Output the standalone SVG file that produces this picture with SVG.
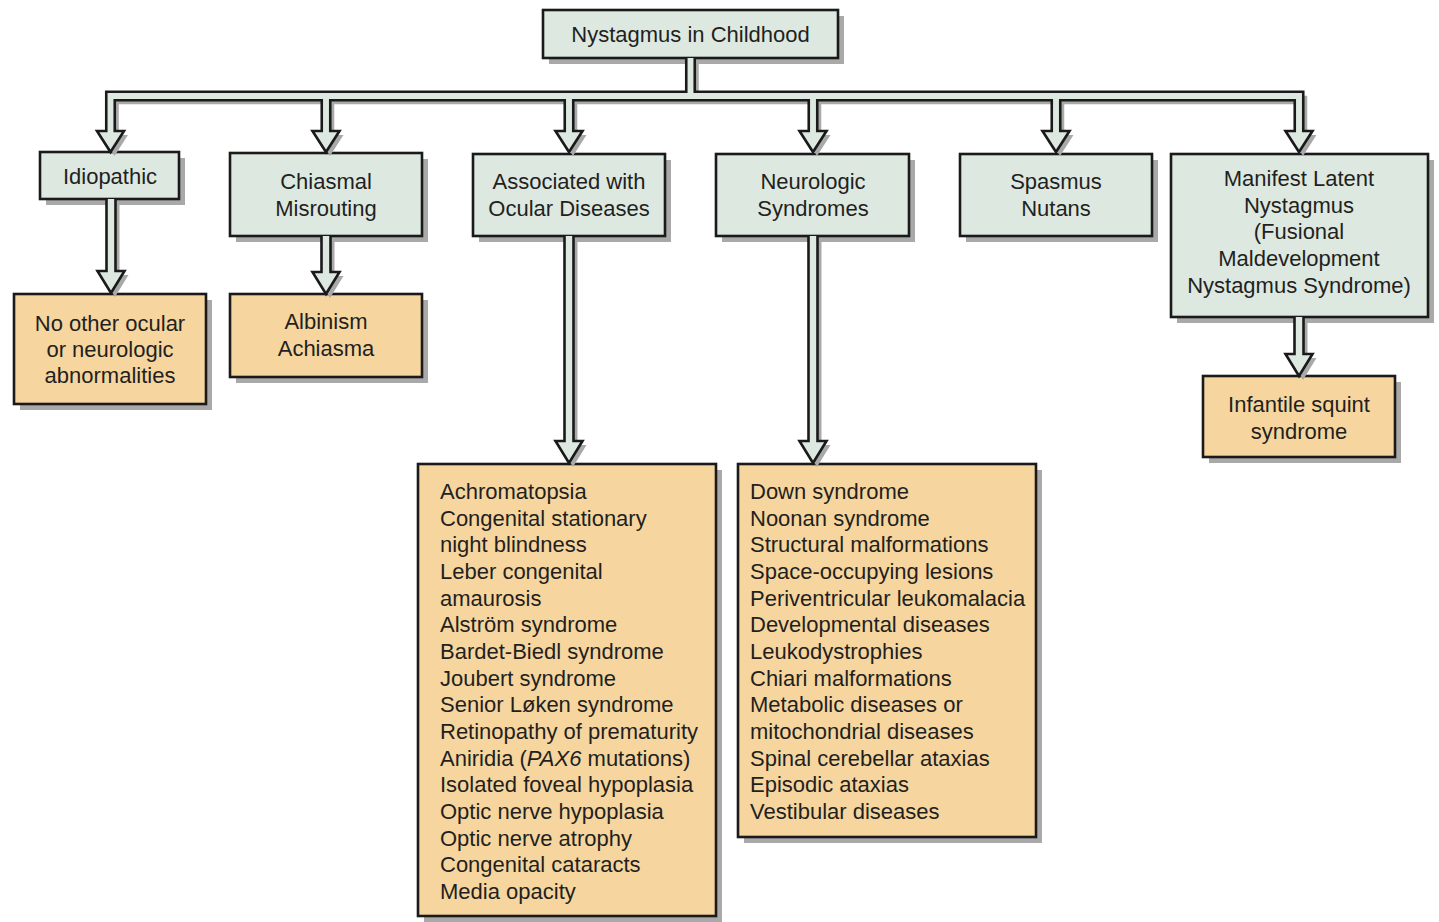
<svg xmlns="http://www.w3.org/2000/svg" width="1439" height="922" viewBox="0 0 1439 922">
<style>
.g{fill:#dde9e0;stroke:#1a1a1a;stroke-width:2.6}
.o{fill:#f6d69e;stroke:#1a1a1a;stroke-width:2.6}
.sh{fill:#a9a9a9}
.c{fill:#dde9e0;stroke:#1a1a1a;stroke-width:2.6;stroke-linejoin:miter}
.cs{fill:#a9a9a9;stroke:none}
text{font-family:"Liberation Sans",Arial,sans-serif;font-size:22px;fill:#231f20}
.m{text-anchor:middle}
</style>
<rect width="1439" height="922" fill="#ffffff"/>
<g id="n-root"><rect class="sh" x="549" y="16" width="295" height="48"/><rect class="g" x="543" y="10" width="295" height="48"/><text class="m" x="690.5" y="42">Nystagmus in Childhood</text></g>
<g id="n-idiopathic"><rect class="sh" x="46" y="158" width="139" height="47"/><rect class="g" x="40" y="152" width="139" height="47"/><text class="m" x="110" y="184">Idiopathic</text></g>
<g id="n-chiasmal"><rect class="sh" x="236" y="159" width="192" height="83"/><rect class="g" x="230" y="153" width="192" height="83"/><text class="m" x="326" y="189">Chiasmal<tspan x="326" dy="27">Misrouting</tspan></text></g>
<g id="n-ocular"><rect class="sh" x="479" y="160" width="192" height="82"/><rect class="g" x="473" y="154" width="192" height="82"/><text class="m" x="569" y="189">Associated with<tspan x="569" dy="27">Ocular Diseases</tspan></text></g>
<g id="n-neuro"><rect class="sh" x="722" y="160" width="193" height="82"/><rect class="g" x="716" y="154" width="193" height="82"/><text class="m" x="813" y="189">Neurologic<tspan x="813" dy="27">Syndromes</tspan></text></g>
<g id="n-spasmus"><rect class="sh" x="966" y="160" width="192" height="82"/><rect class="g" x="960" y="154" width="192" height="82"/><text class="m" x="1056" y="189">Spasmus<tspan x="1056" dy="27">Nutans</tspan></text></g>
<g id="n-manifest"><rect class="sh" x="1177" y="160" width="257" height="163"/><rect class="g" x="1171" y="154" width="257" height="163"/><text class="m" x="1299" y="186">Manifest Latent<tspan x="1299" dy="26.7">Nystagmus</tspan><tspan x="1299" dy="26.7">(Fusional</tspan><tspan x="1299" dy="26.7">Maldevelopment</tspan><tspan x="1299" dy="26.7">Nystagmus Syndrome)</tspan></text></g>
<g id="n-noother"><rect class="sh" x="20" y="300" width="192" height="110"/><rect class="o" x="14" y="294" width="192" height="110"/><text class="m" x="110" y="331">No other ocular<tspan x="110" dy="26">or neurologic</tspan><tspan x="110" dy="26">abnormalities</tspan></text></g>
<g id="n-albinism"><rect class="sh" x="236" y="300" width="192" height="83"/><rect class="o" x="230" y="294" width="192" height="83"/><text class="m" x="326" y="329">Albinism<tspan x="326" dy="27">Achiasma</tspan></text></g>
<g id="n-ocularlist"><rect class="sh" x="424" y="470" width="298" height="452"/><rect class="o" x="418" y="464" width="298" height="452"/>
<text x="440" y="499">Achromatopsia<tspan x="440" dy="26.67">Congenital stationary</tspan><tspan x="440" dy="26.67">night blindness</tspan><tspan x="440" dy="26.67">Leber congenital</tspan><tspan x="440" dy="26.67">amaurosis</tspan><tspan x="440" dy="26.67">Alström syndrome</tspan><tspan x="440" dy="26.67">Bardet-Biedl syndrome</tspan><tspan x="440" dy="26.67">Joubert syndrome</tspan><tspan x="440" dy="26.67">Senior Løken syndrome</tspan><tspan x="440" dy="26.67">Retinopathy of prematurity</tspan><tspan x="440" dy="26.67">Aniridia (<tspan font-style="italic">PAX6</tspan> mutations)</tspan><tspan x="440" dy="26.67">Isolated foveal hypoplasia</tspan><tspan x="440" dy="26.67">Optic nerve hypoplasia</tspan><tspan x="440" dy="26.67">Optic nerve atrophy</tspan><tspan x="440" dy="26.67">Congenital cataracts</tspan><tspan x="440" dy="26.67">Media opacity</tspan></text></g>
<g id="n-neurolist"><rect class="sh" x="744" y="470" width="298" height="373"/><rect class="o" x="738" y="464" width="298" height="373"/>
<text x="750" y="499">Down syndrome<tspan x="750" dy="26.67">Noonan syndrome</tspan><tspan x="750" dy="26.67">Structural malformations</tspan><tspan x="750" dy="26.67">Space-occupying lesions</tspan><tspan x="750" dy="26.67">Periventricular leukomalacia</tspan><tspan x="750" dy="26.67">Developmental diseases</tspan><tspan x="750" dy="26.67">Leukodystrophies</tspan><tspan x="750" dy="26.67">Chiari malformations</tspan><tspan x="750" dy="26.67">Metabolic diseases or</tspan><tspan x="750" dy="26.67">mitochondrial diseases</tspan><tspan x="750" dy="26.67">Spinal cerebellar ataxias</tspan><tspan x="750" dy="26.67">Episodic ataxias</tspan><tspan x="750" dy="26.67">Vestibular diseases</tspan></text></g>
<g id="n-infantile"><rect class="sh" x="1209" y="382" width="192" height="81"/><rect class="o" x="1203" y="376" width="192" height="81"/><text class="m" x="1299" y="412">Infantile squint<tspan x="1299" dy="27">syndrome</tspan></text></g>
<g id="connectors">
<defs>
<path id="bus" d="M 686.25 58 V 91.75 H 106.25 V 131 H 97 L 110.5 152 L 124 131 H 114.75 V 100.25 H 321.75 V 131 H 312.5 L 326 152 L 339.5 131 H 330.25 V 100.25 H 564.75 V 131 H 555.5 L 569 152 L 582.5 131 H 573.25 V 100.25 H 808.75 V 131 H 799.5 L 813 152 L 826.5 131 H 817.25 V 100.25 H 1051.75 V 131 H 1042.5 L 1056 152 L 1069.5 131 H 1060.25 V 100.25 H 1294.75 V 131 H 1285.5 L 1299 152 L 1312.5 131 H 1303.25 V 91.75 H 694.75 V 58"/>
<path id="a1" d="M 106.5 199 V 271 H 97.5 L 111 293 L 124.5 271 H 115.5 V 199"/>
<path id="a2" d="M 321.5 236 V 272 H 312.5 L 326 294 L 339.5 272 H 330.5 V 236"/>
<path id="a3" d="M 564.5 236 V 441 H 555.5 L 569 463 L 582.5 441 H 573.5 V 236"/>
<path id="a4" d="M 808.5 236 V 441 H 799.5 L 813 463 L 826.5 441 H 817.5 V 236"/>
<path id="a5" d="M 1294.5 317 V 354 H 1285.5 L 1299 376 L 1312.5 354 H 1303.5 V 317"/>
</defs>
<g transform="translate(4,4)">
<use href="#bus" class="cs"/><use href="#a1" class="cs"/><use href="#a2" class="cs"/><use href="#a3" class="cs"/><use href="#a4" class="cs"/><use href="#a5" class="cs"/>
</g>
<use href="#bus" class="c"/><use href="#a1" class="c"/><use href="#a2" class="c"/><use href="#a3" class="c"/><use href="#a4" class="c"/><use href="#a5" class="c"/>
</g>
</svg>
